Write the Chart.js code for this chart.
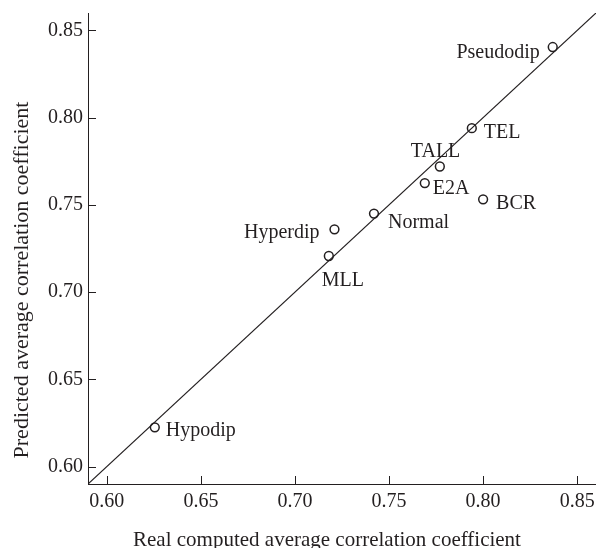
<!DOCTYPE html>
<html>
<head>
<meta charset="utf-8">
<script src="https://cdn.jsdelivr.net/npm/chart.js@4"></script>
<style>
  html, body { margin: 0; padding: 0; background: #fff; overflow: hidden; }
  #wrap { width: 596px; height: 548px; overflow: hidden; }
</style>
</head>
<body>
<div id="wrap"><canvas id="myChart" width="604" height="548"></canvas></div>
<script>
const ctx = document.getElementById('myChart');

// subtypes, real vs predicted average correlation
var groups = ['Pseudodip', 'TEL', 'TALL', 'E2A', 'BCR', 'Normal', 'Hyperdip', 'MLL', 'Hypodip'];
var realVals = [0.837, 0.794, 0.777, 0.769, 0.800, 0.742, 0.721, 0.718, 0.6255];
var predVals = [0.8405, 0.794, 0.772, 0.7625, 0.7532, 0.745, 0.736, 0.7207, 0.6225];

// y = x reference line
var diagX = [0.59, 0.86];
var diagY = [0.59, 0.86];

var tickVals = [0.60, 0.65, 0.70, 0.75, 0.80, 0.85];

// where each name sits relative to its marker (px)
var labelPos = {
  Pseudodip: [-13, 11, 'right'],
  TEL: [12, 10, 'left'],
  TALL: [-29, -10, 'left'],
  E2A: [8, 10.5, 'left'],
  BCR: [13, 10, 'left'],
  Normal: [14, 14, 'left'],
  Hyperdip: [-15, 9, 'right'],
  MLL: [-7, 30, 'left'],
  Hypodip: [11, 9, 'left']
};

var ink = '#231f20';
var serif = "'Liberation Serif', 'Times New Roman', serif";

var extras = {
  id: 'extras',
  afterDraw(chart) {
    var c = chart.ctx, xs = chart.scales.x, ys = chart.scales.y;
    var a = chart.chartArea;
    c.save();
    // inward tick marks
    c.strokeStyle = ink;
    c.lineWidth = 1;
    c.beginPath();
    tickVals.forEach(v => {
      var px = Math.round(xs.getPixelForValue(v)) + 0.5;
      c.moveTo(px, a.bottom);
      c.lineTo(px, a.bottom - 8);
      var py = Math.round(ys.getPixelForValue(v)) + 0.5;
      c.moveTo(a.left, py);
      c.lineTo(a.left + 8, py);
    });
    c.stroke();

    // point names
    c.fillStyle = ink;
    c.font = '20px ' + serif;
    c.textBaseline = 'alphabetic';
    var meta = chart.getDatasetMeta(1);
    meta.data.forEach((pt, i) => {
      var p = labelPos[groups[i]];
      c.textAlign = p[2];
      c.fillText(groups[i], pt.x + p[0], pt.y + p[1]);
    });

    // axis titles
    c.font = '21px ' + serif;
    c.textAlign = 'center';
    c.fillText('Real computed average correlation coefficient', 327, 545.5);
    c.translate(28, 280);
    c.rotate(-Math.PI / 2);
    c.font = '22px ' + serif;
    c.fillText('Predicted average correlation coefficient', 0, 0);
    c.restore();
  }
};

var chart = new Chart(ctx, {
  type: 'scatter',
  data: {
    datasets: [{
      type: 'line',
      data: diagX.map((x, i) => ({ x: x, y: diagY[i] })),
      borderColor: ink,
      borderWidth: 1.2,
      pointRadius: 0,
      fill: false
    },
    {
      data: realVals.map((x, i) => ({ x: x, y: predVals[i] })),
      borderColor: ink,
      backgroundColor: 'rgba(0,0,0,0)',
      borderWidth: 1.5,
      pointRadius: 4.4,
      pointStyle: 'circle'
    }]
  },
  options: {
    responsive: false,
    animation: false,
    layout: { padding: { top: 13, right: 8, left: 0, bottom: 0 } },
    plugins: {
      legend: { display: false },
      tooltip: { enabled: false }
    },
    scales: {
      x: {
        type: 'linear',
        min: 0.59,
        max: 0.86,
        afterBuildTicks: s => { s.ticks = tickVals.map(v => ({ value: v })); },
        afterFit: s => { s.height = 64; s.paddingLeft = 0; s.paddingRight = 0; },
        grid: { display: false, drawTicks: false },
        border: { display: true, color: ink, width: 1 },
        ticks: {
          padding: 6,
          color: ink,
          maxRotation: 0,
          font: { family: serif, size: 20 },
          callback: v => v.toFixed(2)
        }
      },
      y: {
        type: 'linear',
        min: 0.59,
        max: 0.86,
        afterBuildTicks: s => { s.ticks = tickVals.map(v => ({ value: v })); },
        afterFit: s => { s.width = 88; s.paddingTop = 0; s.paddingBottom = 0; },
        grid: { display: false, drawTicks: false },
        border: { display: true, color: ink, width: 1 },
        ticks: {
          padding: 5,
          color: ink,
          font: { family: serif, size: 20 },
          callback: v => v.toFixed(2)
        }
      }
    }
  },
  plugins: [extras]
});
</script>
</body>
</html>
